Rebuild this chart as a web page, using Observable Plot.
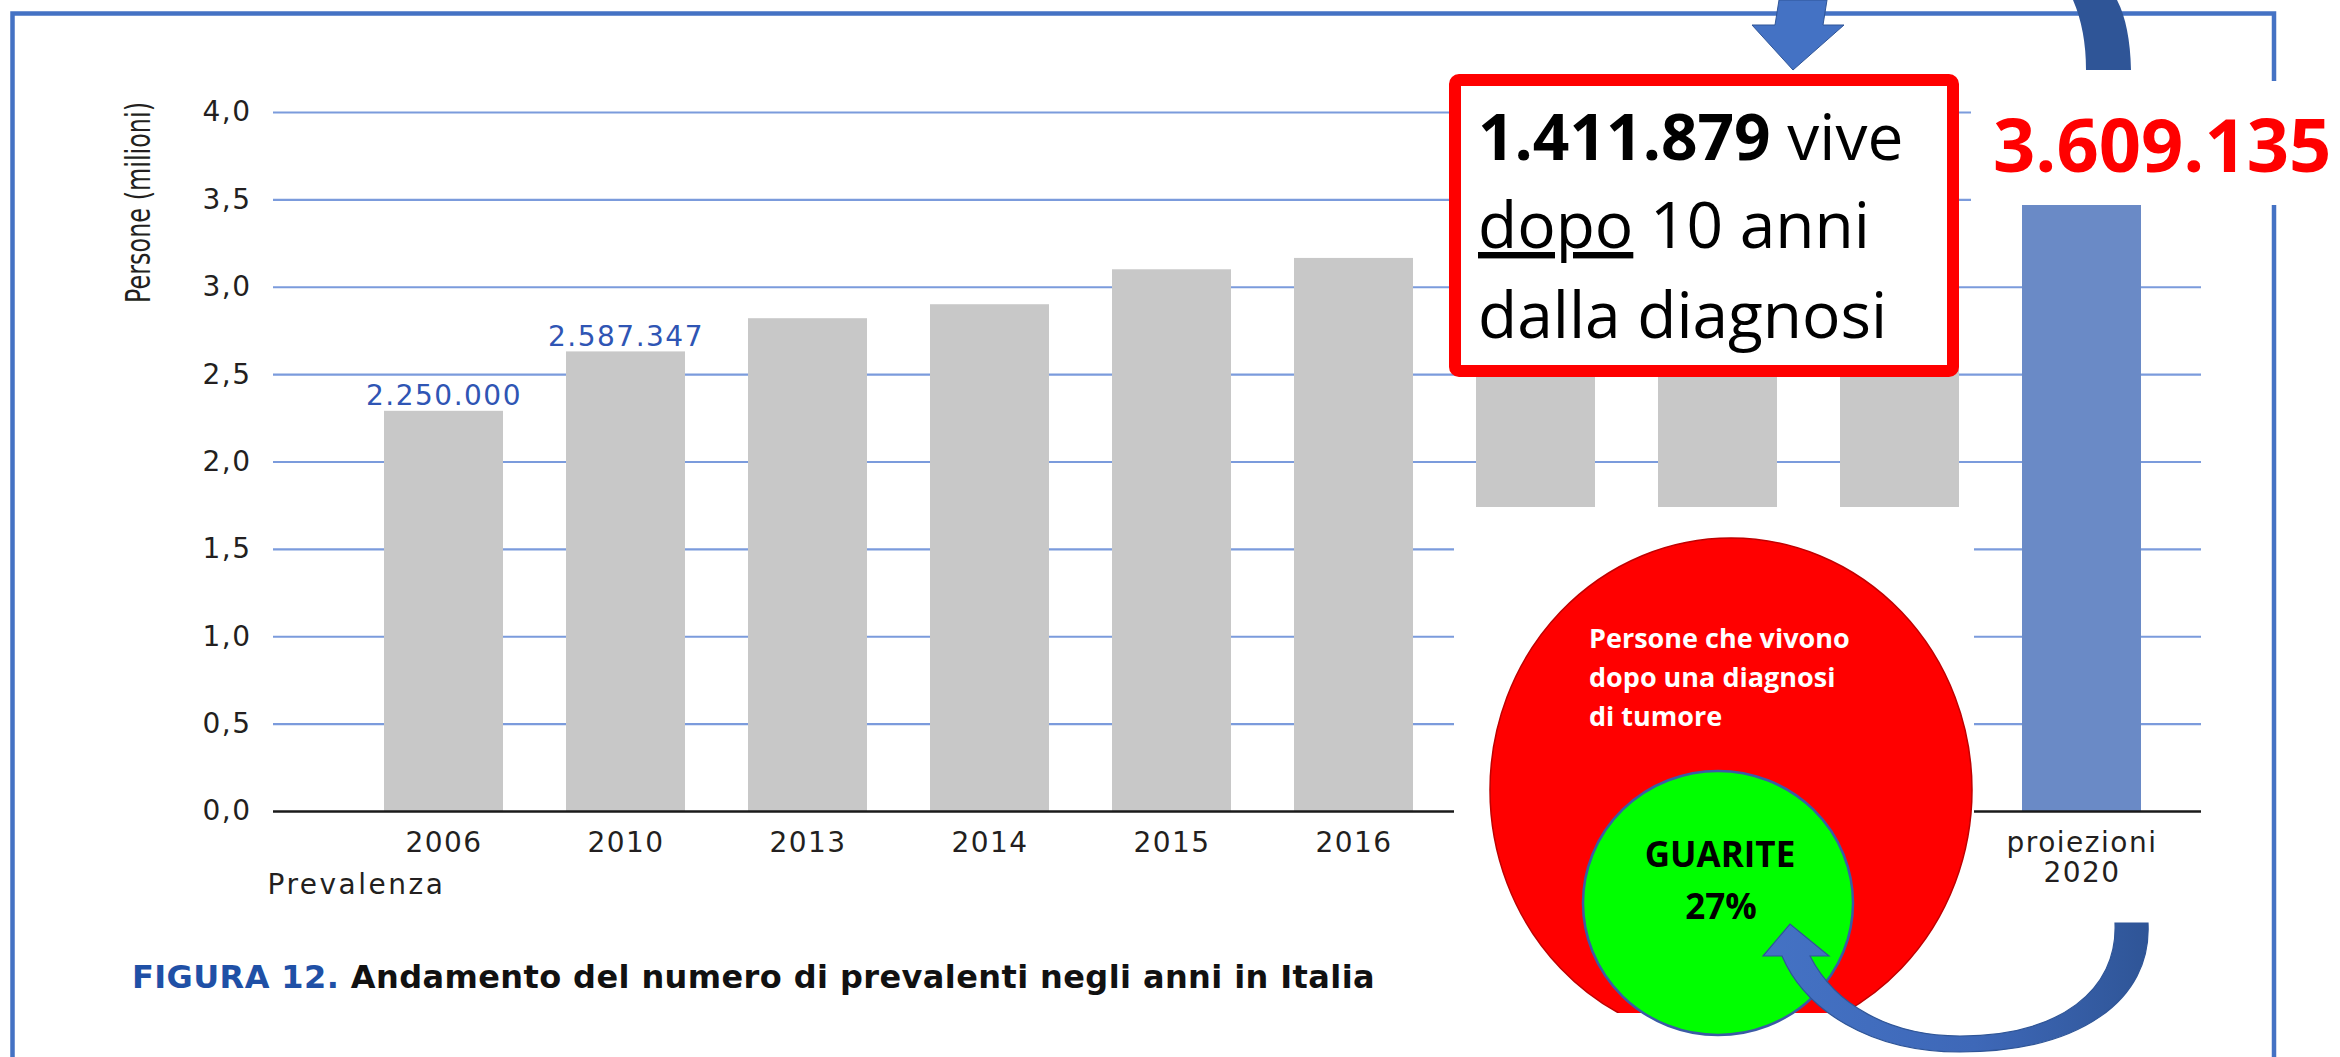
<!DOCTYPE html>
<html>
<head>
<meta charset="utf-8">
<script src="https://cdn.jsdelivr.net/npm/d3@7"></script>
<script src="https://cdn.jsdelivr.net/npm/@observablehq/plot@0.6"></script>
<style>
html, body { margin: 0; padding: 0; background: #fff; overflow: hidden; }
#chart { position: relative; width: 2340px; height: 1057px; overflow: hidden; }
</style>
</head>
<body>
<div id="chart"></div>
<script>
// ---- data ----
const years = ["2006", "2010", "2013", "2014", "2015", "2016", "2017", "2018", "2019", "2020"];
// the 2017-2019 labels are covered by the pasted picture in the reference
const tickLabels = ["2006", "2010", "2013", "2014", "2015", "2016", "", "", "", "proiezioni\n2020"];
const persone = [2.29, 2.63, 2.82, 2.90, 3.10, 3.165, 3.30, 3.37, 3.46, 3.609]; // milioni
const valueLabels = ["2.250.000", "2.587.347", "", "", "", "", "", "", "", ""];
const barColors = ["#c8c8c8", "#c8c8c8", "#c8c8c8", "#c8c8c8", "#c8c8c8", "#c8c8c8", "#c8c8c8", "#c8c8c8", "#c8c8c8", "#6a8ac6"];
const yTicks = [0, 0.5, 1, 1.5, 2, 2.5, 3, 3.5, 4];
const gridTicks = [0.5, 1, 1.5, 2, 2.5, 3, 3.5, 4];
const yLabel = "Persone (milioni)";
const xLabel = "Prevalenza";
const captionBlue = "FIGURA 12.";
const captionBlack = " Andamento del numero di prevalenti negli anni in Italia";
const boxLine1Bold = "1.411.879";
const boxLine1 = " vive";
const boxLine2U = "dopo";
const boxLine2 = " 10 anni";
const boxLine3 = "dalla diagnosi";
const bigNumber = "3.609.135";
const ovalLines = ["Persone che vivono", "dopo una diagnosi", "di tumore"];
const greenLines = ["GUARITE", "27%"];

const rows = years.map((year, i) => ({
  year, value: persone[i], text: valueLabels[i], color: barColors[i]
}));

// ---- annotation overlay (frame, boxes, ovals, arrows, titles) ----
function overlay() {
  const g = d3.create("svg:g").attr("text-anchor", "start").style("letter-spacing", "0px");
  const defs = g.append("defs");
  const grad = defs.append("linearGradient").attr("id", "arrowGrad")
    .attr("x1", "0").attr("x2", "1").attr("y1", "0").attr("y2", "0");
  grad.append("stop").attr("offset", "0%").attr("stop-color", "#4472c4");
  grad.append("stop").attr("offset", "55%").attr("stop-color", "#3e68b8");
  grad.append("stop").attr("offset", "100%").attr("stop-color", "#2f5597");
  defs.append("clipPath").attr("id", "redClip")
    .append("rect").attr("x", 1400).attr("y", 400).attr("width", 700).attr("height", 613);

  // y-axis title (condensed, rotated)
  g.append("text").attr("transform", "translate(150,303) rotate(-90)")
    .attr("font-family", "'DejaVu Sans', sans-serif").attr("font-size", 34).attr("fill", "#231f20")
    .attr("textLength", 201).attr("lengthAdjust", "spacingAndGlyphs").text(yLabel);

  // outer blue frame
  g.append("rect").attr("x", 12.5).attr("y", 13.5).attr("width", 2261.5).attr("height", 1100)
    .attr("fill", "none").attr("stroke", "#4472c4").attr("stroke-width", 4.5);

  // white patches of the pasted pictures
  g.append("rect").attr("x", 1971).attr("y", 81).attr("width", 369).attr("height", 124).attr("fill", "#fff");
  g.append("rect").attr("x", 1454).attr("y", 507).attr("width", 520).attr("height", 560).attr("fill", "#fff");

  // red box
  g.append("rect").attr("x", 1455).attr("y", 80).attr("width", 498).attr("height", 291).attr("rx", 4)
    .attr("fill", "#fff").attr("stroke", "#ff0000").attr("stroke-width", 12);
  const box = g.append("g").attr("font-family", "'Open Sans', sans-serif").attr("font-size", 64).attr("fill", "#000");
  const t1 = box.append("text").attr("x", 1478).attr("y", 160);
  t1.append("tspan").attr("font-weight", "bold").text(boxLine1Bold);
  t1.append("tspan").text(boxLine1);
  const t2 = box.append("text").attr("x", 1478).attr("y", 248);
  t2.append("tspan").style("text-decoration", "underline").text(boxLine2U);
  t2.append("tspan").text(boxLine2);
  box.append("text").attr("x", 1478).attr("y", 338).text(boxLine3);

  // big red number
  g.append("text").attr("x", 1993).attr("y", 172)
    .attr("font-family", "'Open Sans', sans-serif").attr("font-weight", "bold").attr("font-size", 74)
    .attr("fill", "#ff0000").text(bigNumber);

  // ovals
  g.append("ellipse").attr("clip-path", "url(#redClip)")
    .attr("cx", 1731).attr("cy", 790).attr("rx", 241).attr("ry", 252)
    .attr("fill", "#ff0000").attr("stroke", "#c00000").attr("stroke-width", 1.5);
  const ov = g.append("g").attr("font-family", "'Open Sans', sans-serif").attr("font-weight", "bold")
    .attr("font-size", 27).attr("fill", "#fff");
  ovalLines.forEach((s, i) => ov.append("text").attr("x", 1589).attr("y", 648 + i * 39).text(s));
  g.append("ellipse").attr("cx", 1718).attr("cy", 903).attr("rx", 135).attr("ry", 132)
    .attr("fill", "#00ff00").attr("stroke", "#3b5ba5").attr("stroke-width", 2.5);
  const gr = g.append("g").attr("font-family", "'Open Sans', sans-serif").attr("font-weight", "bold")
    .attr("font-size", 35).attr("fill", "#000").attr("text-anchor", "middle");
  gr.append("text").attr("x", 1720).attr("y", 867).text(greenLines[0]);
  gr.append("text").attr("x", 1721).attr("y", 919).text(greenLines[1]);

  // arrows
  g.append("path")
    .attr("d", "M1779,0 L1827,0 L1823,25 L1844,25 L1793,70 L1752,25 L1775,25 Z")
    .attr("fill", "#4472c4").attr("stroke", "#2f5597").attr("stroke-width", 1);
  g.append("path")
    .attr("d", "M2073,0 Q2086,30 2086,70 L2131,70 Q2130,25 2117,0 Z")
    .attr("fill", "#2f5597");
  g.append("path")
    .attr("d", "M2115,923 L2148,923 C2152,1000 2080,1052 1960,1052 C1870,1052 1805,1010 1782,956 L1763,956 L1790,924 L1829,956 L1810,956 C1835,1005 1890,1036 1960,1036 C2060,1036 2118,990 2115,923 Z")
    .attr("fill", "url(#arrowGrad)").attr("stroke", "#2f5597").attr("stroke-width", 1.2);

  // caption
  const cap = g.append("text").attr("x", 132).attr("y", 988).style("letter-spacing", "0.4px")
    .attr("font-family", "'DejaVu Sans', sans-serif").attr("font-weight", "bold").attr("font-size", 32);
  cap.append("tspan").attr("fill", "#1f50a6").text(captionBlue);
  cap.append("tspan").attr("fill", "#111").text(captionBlack);
  return g.node();
}

const chart = Plot.plot({
  width: 2340,
  height: 1057,
  marginLeft: 273,
  marginRight: 139,
  marginTop: 112,
  marginBottom: 246,
  style: {fontFamily: "'DejaVu Sans', sans-serif", fontSize: "28px", color: "#231f20", background: "#fff", letterSpacing: "1.5px", overflow: "visible"},
  x: {type: "band", domain: years, range: [381, 2144], paddingInner: 0.3456, paddingOuter: 0, align: 0.5},
  y: {domain: [0, 4]},
  color: {type: "identity"},
  marks: [
    Plot.gridY(gridTicks, {stroke: "#7b9bdc", strokeOpacity: 1, strokeWidth: 2.2}),
    Plot.barY(rows, {x: "year", y: "value", fill: "color"}),
    Plot.ruleY([0], {stroke: "#1a1a1a", strokeWidth: 2.5}),
    Plot.text(rows.filter(d => d.text), {x: "year", y: "value", text: "text", dy: -6, lineAnchor: "bottom", fill: "#2f55b4", fontSize: 28}),
    Plot.axisY({ticks: yTicks, tickFormat: d => d.toFixed(1).replace(".", ","), tickSize: 0, tickPadding: 22, label: null, fontSize: 28}),
    Plot.axisX({tickFormat: d => tickLabels[years.indexOf(d)], tickSize: 0, tickPadding: 20, label: null, fontSize: 28, lineHeight: 1.05}),
    Plot.text([xLabel], {frameAnchor: "bottom-left", textAnchor: "start", lineAnchor: "bottom", dx: -6, dy: 82, fontSize: 28, fill: "#231f20"}),
    overlay
  ]
});
document.getElementById("chart").appendChild(chart);
d3.select(chart).selectAll("text").filter(function() { return this.textContent === xLabel; })
  .style("letter-spacing", "2.5px");
</script>
</body>
</html>
